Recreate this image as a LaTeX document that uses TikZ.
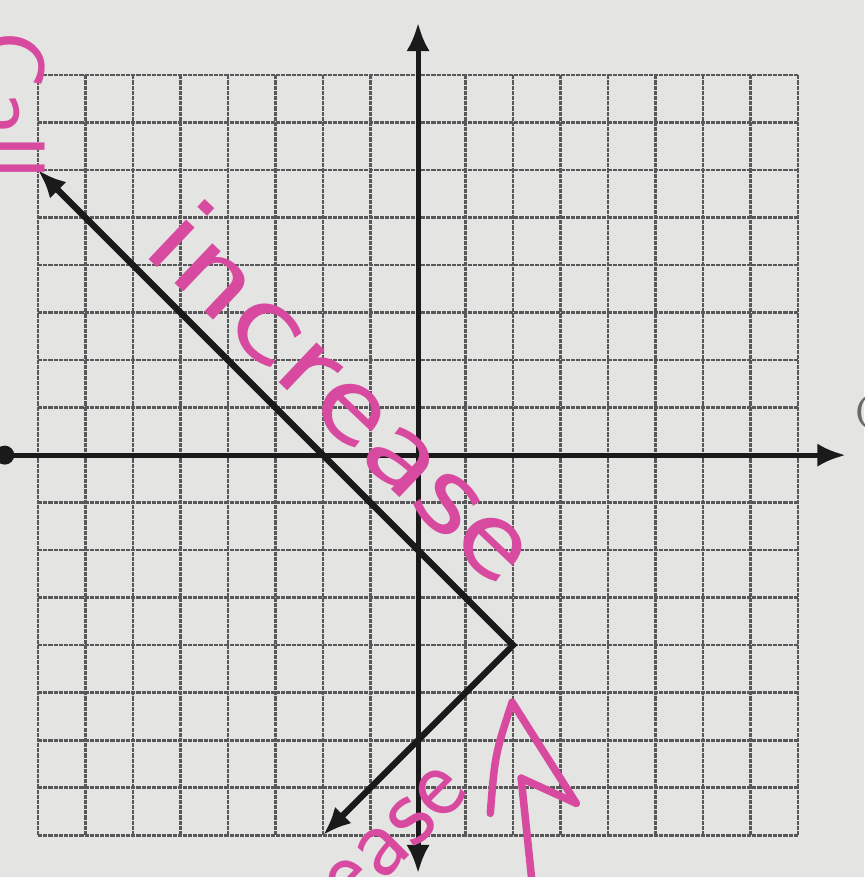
\documentclass[tikz,border=0pt]{standalone}
\usepackage{tikz}
\usetikzlibrary{arrows.meta}
\definecolor{paper}{RGB}{228,228,226}
\definecolor{gridgray}{RGB}{88,88,88}
\definecolor{ink}{RGB}{26,26,26}
\definecolor{marker}{RGB}{216,74,160}
\definecolor{pencil}{RGB}{105,105,105}

\begin{document}
\begin{tikzpicture}[
        gridline/.style={draw=gridgray, line width=1.6pt, dash pattern=on 2.5pt off 0.6pt},
        axis/.style={draw=ink, line width=3pt},
        graphline/.style={draw=ink, line width=3.8pt, line join=miter},
        pen/.style={draw=marker, line width=4.5pt, line cap=round, line join=round},
        scrawl/.style={text=marker, font=\sffamily\fontsize{76}{76}\selectfont, inner sep=0pt},
        >={Latex[length=17pt,width=14pt]}
    ]
        \useasboundingbox[fill=paper] (-8.8,-8.88) rectangle (9.39,9.58);
        \draw[gridline] (-8,-8) grid (8,8);

        \coordinate (xstart) at (-8.7,0);
        \coordinate (xend) at (9.0,0);
        \coordinate (ytop) at (0,9.1);
        \coordinate (ybot) at (0,-8.8);
        \draw[axis, ->] (xstart) -- (xend);
        \draw[axis, <->] (ybot) -- (ytop);
        \fill[ink] (xstart) circle (0.2);

        \coordinate (upper) at (-8,6);
        \coordinate (vertex) at (2,-4);
        \coordinate (lower) at (-2,-8);
        \draw[graphline, <->] (upper) -- (vertex) -- (lower);

        \node[scrawl, rotate=-43.5] (inc) at (-1.5,1.35) {\scalebox{1.25}[1]{increase}};
        \node[scrawl, rotate=45, anchor=east, font=\sffamily\fontsize{62}{62}\selectfont] (dec) at (0.6,-6.6) {decrease};
        \node[scrawl, rotate=-90, anchor=north west, font=\sffamily\fontsize{60}{60}\selectfont] (call) at (-7.85,8.95) {Call};
        \node[text=pencil, anchor=west, font=\fontsize{30}{30}\selectfont, inner sep=0pt] (grade) at (9.2,0.9) {C};

        \coordinate (shafttop) at (2.17,-6.8);
        \coordinate (shaftend) at (2.4,-9.0);
        \coordinate (apex) at (1.98,-5.2);
        \coordinate (leftbarb) at (1.52,-7.54);
        \coordinate (rightbarb) at (3.33,-7.33);
        \draw[pen] (shaftend) -- (shafttop);
        \draw[pen] (leftbarb) .. controls (1.62,-6.3) .. (apex) -- (rightbarb);
        \draw[pen] (shafttop) -- (rightbarb);
    \end{tikzpicture}
\end{document}
